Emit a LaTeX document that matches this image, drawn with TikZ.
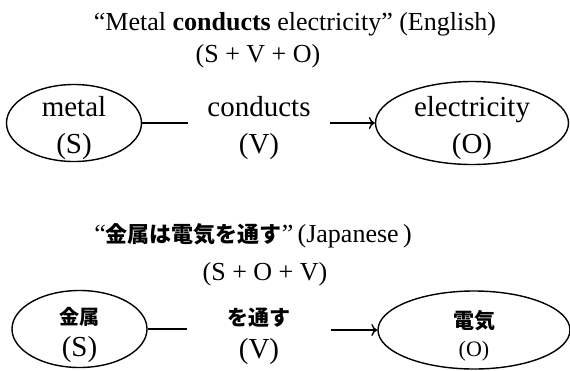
\documentclass[tikz,border=0pt]{standalone}
\usepackage{fontspec}
\setmainfont{Liberation Serif}
\newfontfamily\jpfont{Noto Sans CJK JP}
\usetikzlibrary{positioning,arrows.meta,shapes.geometric}
\tikzset{
  wordnode/.style={draw, ellipse, line width=1.4pt, inner sep=0pt, align=center, font=\fontsize{29}{37}\selectfont},
  lastline/.style={text height=#1, text depth=0pt, inner ysep=-5pt},
  verbnode/.style={inner ysep=0pt, align=center, font=\fontsize{29}{37}\selectfont},
  titlenode/.style={anchor=base, inner sep=0pt, font=\fontsize{26}{30}\selectfont},
  linkline/.style={line width=1.4pt},
  linkarrow/.style={-{To[length=6pt,width=12pt]}, line width=1.4pt}
}
\newcommand{\jpword}[2][21]{{\jpfont\bfseries\fontsize{#1}{24}\selectfont #2}}

\begin{document}
\begin{tikzpicture}[x=1pt, y=-1pt]
  \useasboundingbox (0,0) rectangle (570,370);
  % English sentence
  \node[titlenode] (entitle) at (295,30) {“Metal \textbf{conducts} electricity” (English)};
  \node[titlenode] (enorder) at (258,62) {(S + V + O)};
  \node[wordnode, lastline=60pt, minimum width=135pt, minimum height=77pt] (metal) at (74,123) {metal\\(S)};
  \node[verbnode, inner xsep=19.5pt] (conducts) at (259,128) {conducts\\(V)};
  \node[wordnode, lastline=60pt, minimum width=193pt, minimum height=83pt] (elec) at (472,123) {electricity\\(O)};
  \draw[linkline] (metal.east) -- (metal.east -| conducts.west);
  \draw[linkarrow] (conducts.east |- elec.west) -- (elec.west);

  % Japanese sentence
  \node[titlenode] (jptitle) at (253,242) {“\jpword[22]{金属は電気を通す}”\,(Japanese\,)};
  \node[titlenode] (jporder) at (265,280) {(S + O + V)};
  \node[wordnode, lastline=54pt, minimum width=135pt, minimum height=77pt] (kinzoku) at (79.5,329) {\jpword[20]{金属}\\[-5pt](S)};
  \node[verbnode, inner xsep=40pt] (toosu) at (259,336) {\jpword{を通す}\\[-4pt](V)};
  \node[wordnode, lastline=52pt, minimum width=192pt, minimum height=78pt] (denki) at (474,330) {\jpword{電気}\\[-9pt]{\fontsize{22}{24}\selectfont(O)}};
  \draw[linkline] (kinzoku.east) -- (kinzoku.east -| toosu.west);
  \draw[linkarrow] (toosu.east |- denki.west) -- (denki.west);
\end{tikzpicture}
\end{document}
